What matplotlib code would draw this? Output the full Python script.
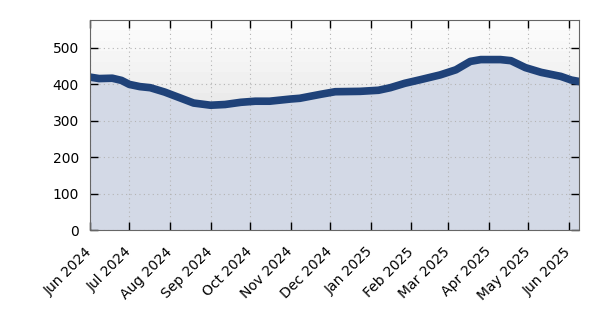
import numpy as np
import pandas as pd
import matplotlib
matplotlib.use("Agg")
import matplotlib.pyplot as plt
import matplotlib.dates as mdates

# valores
fechas = pd.to_datetime([
    "2024-06-01", "2024-06-08", "2024-06-18", "2024-06-25", "2024-07-01",
    "2024-07-09", "2024-07-17", "2024-07-28", "2024-08-08", "2024-08-19",
    "2024-09-01", "2024-09-12", "2024-09-24", "2024-10-05", "2024-10-16",
    "2024-11-01", "2024-11-08", "2024-11-24", "2024-12-05", "2024-12-24",
    "2025-01-07", "2025-01-16", "2025-01-27", "2025-02-08", "2025-02-23",
    "2025-03-07", "2025-03-18", "2025-03-26", "2025-04-10", "2025-04-18",
    "2025-04-29", "2025-05-11", "2025-05-26", "2025-06-03", "2025-06-09",
])
valores = [419, 415, 416, 410, 399,
           393, 390, 378, 363, 348,
           342, 344, 350, 353, 353,
           359, 361, 372, 379, 380,
           383, 390, 402, 412, 425,
           439, 462, 467, 467, 464,
           445, 432, 421, 411, 407]

ymax = 575

fig, ax = plt.subplots(figsize=(5.94, 3.25), dpi=100)
fig.subplots_adjust(left=0.1515, right=0.975, top=0.938, bottom=0.292)

# fondo degradado por bandas (blanco arriba)
bandas = np.linspace(0.99, 0.80, 20).reshape(-1, 1)
x0, x1 = mdates.date2num(fechas[0]), mdates.date2num(fechas[-1])
ax.imshow(bandas, cmap="gray", vmin=0, vmax=1, aspect="auto",
          extent=[x0, x1, 0, ymax], zorder=0, interpolation="nearest")

ax.fill_between(fechas, valores, 0, color="#d3d9e6", zorder=1)
ax.plot(fechas, valores, color="#1f4279", lw=5.5, solid_capstyle="round",
        solid_joinstyle="round", zorder=3)

ax.set_xlim(fechas[0], fechas[-1])
ax.set_ylim(0, ymax)
ax.set_yticks([0, 100, 200, 300, 400, 500])
ax.xaxis.set_major_locator(mdates.MonthLocator())
ax.xaxis.set_major_formatter(mdates.DateFormatter("%b %Y"))
plt.setp(ax.get_xticklabels(), rotation=45, ha="right", va="center",
         rotation_mode="anchor")

ax.tick_params(direction="in", length=6, width=1, top=True, right=True,
               labelsize=10, colors="black")
ax.tick_params(axis="x", pad=14)
ax.tick_params(axis="y", pad=8)
ax.grid(True, color="#b4b4b4", lw=0.8, dashes=(1, 3), zorder=2)
ax.set_axisbelow(False)
for s in ax.spines.values():
    s.set_color("#666666")
    s.set_zorder(4)

fig.savefig("out.png")
